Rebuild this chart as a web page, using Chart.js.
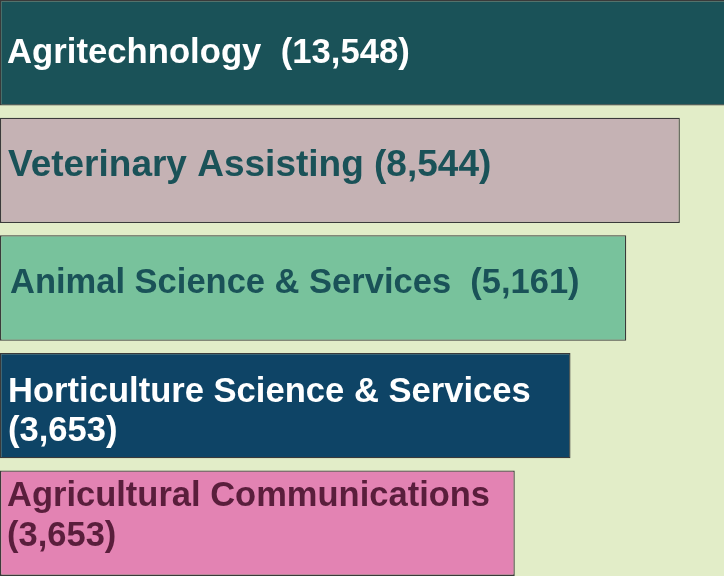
<!DOCTYPE html>
<html>
<head>
<meta charset="utf-8">
<script src="https://cdn.jsdelivr.net/npm/chart.js@4.4.1/dist/chart.umd.min.js"></script>
<style>
  html, body { margin: 0; padding: 0; background: #E2EDC8; overflow: hidden; }
  #wrap { width: 724px; height: 576px; position: relative; overflow: hidden; }
  #c { position: absolute; left: 0; top: -6px; }
</style>
</head>
<body>
<div id="wrap"><canvas id="c" width="724" height="588"></canvas></div>
<script>
// Categories and their counts (as printed in the labels)
const categories = [
  "Agritechnology",
  "Veterinary Assisting",
  "Animal Science & Services",
  "Horticulture Science & Services",
  "Agricultural Communications"
];
const counts = [13548, 8544, 5161, 3653, 3653];
// Displayed bar lengths (percent of the full width)
const barLengths = [101, 93.9, 86.5, 78.8, 71.1];
// Label lines as they appear in each bar
const labelLines = [
  ["Agritechnology  (13,548)"],
  ["Veterinary Assisting (8,544)"],
  ["Animal Science & Services  (5,161)"],
  ["Horticulture Science & Services", "(3,653)"],
  ["Agricultural Communications", "(3,653)"]
];

const fills = ["#1A5258", "#C5B2B4", "#78C29C", "#0E4466", "#E383B3"];
const textColors = ["#FFFFFF", "#1A5258", "#1A5258", "#FFFFFF", "#5A1E3C"];
const fontSizes = [34.7, 37, 34.5, 34.6, 34.5];
const textX = [7, 8, 10, 8, 7];
const baselineOffsets = [[10], [6], [4.5], [-4, 35], [-17, 23]];

const labelPlugin = {
  id: 'barLabels',
  afterDatasetsDraw(chart) {
    const ctx = chart.ctx;
    const meta = chart.getDatasetMeta(0);
    meta.data.forEach((bar, i) => {
      ctx.save();
      ctx.font = "bold " + fontSizes[i] + "px 'Liberation Sans', Arial, sans-serif";
      ctx.fillStyle = textColors[i];
      ctx.textAlign = 'left';
      ctx.textBaseline = 'alphabetic';
      labelLines[i].forEach((line, j) => {
        ctx.fillText(line, textX[i], bar.y + baselineOffsets[i][j]);
      });
      ctx.restore();
    });
  }
};

new Chart(document.getElementById('c'), {
  type: 'bar',
  data: {
    labels: categories,
    datasets: [{
      data: barLengths,
      backgroundColor: fills,
      borderColor: "#3A3A3A",
      borderWidth: 1.3,
      borderSkipped: false,
      barPercentage: 0.896,
      categoryPercentage: 1.0
    }]
  },
  options: {
    indexAxis: 'y',
    responsive: false,
    animation: false,
    maintainAspectRatio: false,
    layout: { padding: 0 },
    scales: {
      x: { display: false, min: 0, max: 100 },
      y: { display: false }
    },
    plugins: {
      legend: { display: false },
      tooltip: { enabled: false }
    }
  },
  plugins: [labelPlugin]
});
</script>
</body>
</html>
